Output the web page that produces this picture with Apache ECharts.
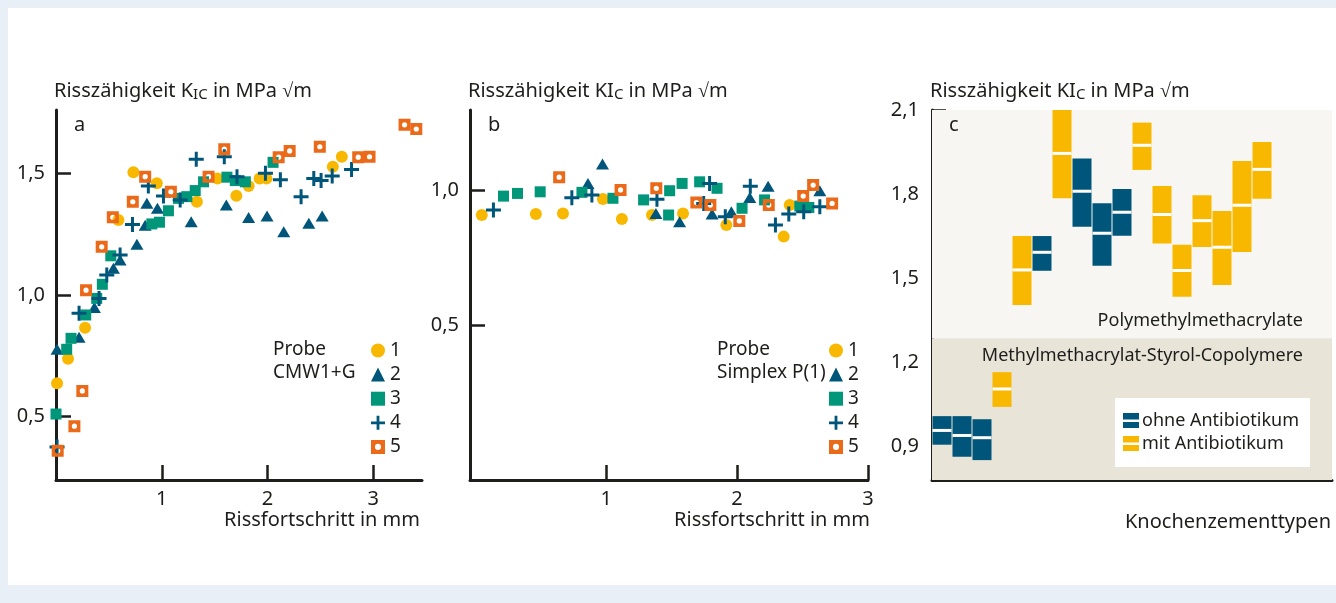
<!DOCTYPE html>
<html><head><meta charset="utf-8">
<script src="https://cdn.jsdelivr.net/npm/echarts@6/dist/echarts.min.js"></script>
<style>
html,body{margin:0;padding:0;background:#e8eff7;}
#panel{position:absolute;left:8px;top:8px;width:1328px;height:577px;background:#fff;}
#c{position:absolute;left:0;top:0;width:1336px;height:603px;}
</style>
</head><body><div id="panel"></div><div id="c"></div>
<script>
// ---------- data ----------
const probeNames = ['1', '2', '3', '4', '5'];
// Panel a: Probe CMW1+G  [Rissfortschritt mm, K_IC MPa√m]
const a1 = [[0.01,0.637],[0.114,0.738],[0.275,0.865],[0.59,1.308],[0.732,1.504],[0.953,1.459],[1.332,1.383],[1.527,1.479],[1.705,1.408],[1.821,1.448],[1.925,1.479],[1.989,1.479],[2.617,1.527],[2.702,1.568]];
const a2 = [[0.01,0.777],[0.218,0.826],[0.363,0.949],[0.543,1.11],[0.606,1.144],[0.765,1.209],[0.843,1.287],[0.859,1.377],[0.959,1.356],[1.278,1.301],[1.61,1.37],[1.821,1.318],[1.995,1.325],[2.153,1.26],[2.39,1.295],[2.516,1.325]];
const a3 = [[0,0.511],[0.101,0.777],[0.142,0.822],[0.281,0.918],[0.385,0.986],[0.438,1.044],[0.518,1.161],[0.906,1.292],[0.978,1.299],[1.063,1.346],[1.158,1.397],[1.237,1.404],[1.316,1.429],[1.395,1.465],[1.616,1.484],[1.695,1.47],[1.79,1.465],[2.052,1.545]];
const a4 = [[0.01,0.376],[0.218,0.925],[0.407,0.986],[0.48,1.082],[0.606,1.164],[0.723,1.29],[0.873,1.448],[1.016,1.407],[1.174,1.39],[1.326,1.558],[1.591,1.568],[1.711,1.486],[1.98,1.5],[2.121,1.473],[2.317,1.404],[2.437,1.479],[2.506,1.47],[2.611,1.489],[2.794,1.516]];
const a5 = [[0.016,0.36],[0.174,0.461],[0.249,0.606],[0.284,1.02],[0.432,1.198],[0.537,1.319],[0.726,1.383],[0.843,1.486],[1.086,1.424],[1.442,1.486],[1.591,1.599],[2.105,1.566],[2.209,1.592],[2.494,1.609],[2.857,1.566],[2.964,1.568],[3.295,1.699],[3.406,1.682]];
// Panel b: Probe Simplex P(1)
const b1 = [[0.05,0.91],[0.463,0.914],[0.67,0.916],[0.975,0.969],[1.12,0.895],[1.35,0.91],[1.587,0.916],[1.918,0.873],[2.356,0.83],[2.402,0.947]];
const b2 = [[0.861,1.027],[0.972,1.099],[1.38,0.916],[1.561,0.885],[1.809,0.914],[1.956,0.922],[2.097,0.975],[2.237,1.017],[2.632,1.0]];
const b3 = [[0.216,0.98],[0.323,0.99],[0.496,0.996],[0.815,0.994],[1.052,0.972],[1.286,0.966],[1.477,0.91],[1.485,1.0],[1.58,1.027],[1.714,1.033],[1.847,1.009],[2.038,0.935],[2.21,0.966],[2.479,0.943],[2.548,0.938]];
const b4 = [[0.139,0.929],[0.738,0.974],[0.891,0.984],[1.388,0.968],[1.745,0.953],[1.79,1.027],[1.91,0.904],[2.101,1.017],[2.293,0.873],[2.395,0.914],[2.509,0.922],[2.632,0.941]];
const b5 = [[0.641,1.05],[1.11,1.003],[1.383,1.009],[1.689,0.956],[1.796,0.947],[2.017,0.888],[2.242,0.947],[2.505,0.98],[2.581,1.021],[2.726,0.953]];
// Panel c: Knochenzementtypen (min, mittel, max) and antibiotic flag
const cLow  = [0.905,0.862,0.85,1.04,1.404,1.526,1.785,1.683,1.544,1.651,1.886,1.623,1.433,1.611,1.475,1.593,1.783];
const cMean = [0.956,0.938,0.93,1.104,1.529,1.592,1.945,1.81,1.66,1.735,1.974,1.727,1.527,1.705,1.61,1.76,1.888];
const cHigh = [1.007,1.007,0.996,1.164,1.65,1.65,2.10,1.927,1.767,1.818,2.055,1.829,1.619,1.796,1.739,1.918,1.986];
const cAntibiotic = [0,0,0,1,1,0,1,0,0,0,1,1,1,1,1,1,1];
const groupNames = ['ohne Antibiotikum', 'mit Antibiotikum'];
const regionNames = ['Polymethylmethacrylate', 'Methylmethacrylat-Styrol-Copolymere'];
const regionBounds = [[1.285, 2.1], [0.779, 1.285]];
const ticksA = [0.5, 1.0, 1.5];
const ticksB = [0.5, 1.0];
const ticksC = [0.9, 1.2, 1.5, 1.8, 2.1];
const ticksX = [1, 2, 3];

// ---------- style ----------
const FONT = 'Noto Sans';
const FS = 20;
const TXT = '#1d1d1b';
const YEL = '#f9b800', BLU = '#00567a', GRN = '#009679', ORG = '#eb6a1a';
const PLUS = 'path://M5.6,0H8.4V5.6H14V8.4H8.4V14H5.6V8.4H0V5.6H5.6Z';
const HOLLOW = 'path://M0,0L12,0L12,12L0,12Z M6,3.4A2.6,2.6,0,1,0,6,8.6A2.6,2.6,0,1,0,6,3.4Z';
const symbols = ['circle', 'triangle', 'rect', PLUS, HOLLOW];
const sizes = [12, [13, 11], 11, 15, 12];
const colors = [YEL, BLU, GRN, BLU, ORG];
const fmt = v => Number(v).toFixed(1).replace('.', ',');

function valueAxis(grid, min, max, ticks, labels, extra) {
  return Object.assign({
    gridIndex: grid, type: 'value', min: min, max: max,
    axisLine: { show: true, onZero: false, lineStyle: { color: TXT, width: 3 } },
    axisTick: { show: ticks.length > 0, inside: true, length: 15, customValues: ticks, lineStyle: { color: TXT, width: 2.5 } },
    axisLabel: { show: labels, customValues: ticks, formatter: fmt, fontSize: FS, fontFamily: FONT, color: TXT, margin: 11 },
    splitLine: { show: false }
  }, extra || {});
}

const series = [];
[[a1, a2, a3, a4, a5], [b1, b2, b3, b4, b5]].forEach((set, g) => {
  set.forEach((d, i) => {
    series.push({
      type: 'scatter', name: probeNames[i], xAxisIndex: g, yAxisIndex: g,
      data: d, symbol: symbols[i], symbolSize: sizes[i],
      itemStyle: { color: colors[i], opacity: 1 }, z: 3, silent: true
    });
  });
});

// panel c backgrounds
series.push({
  type: 'custom', xAxisIndex: 2, yAxisIndex: 2, z: 1, silent: true,
  data: regionBounds.map((b, i) => [b[0], b[1], i]),
  renderItem: function (params, api) {
    const cs = params.coordSys;
    const y0 = api.coord([0, api.value(1)])[1];
    const y1 = api.coord([0, api.value(0)])[1];
    const i = api.value(2);
    const children = [{
      type: 'rect', shape: { x: cs.x, y: y0, width: cs.width, height: y1 - y0 },
      style: { fill: i === 0 ? '#f7f6f2' : '#e8e4d8' }
    }];
    const by = i === 0 ? y1 - 17 : y0 + 18;
    children.push({
      type: 'text', x: cs.x + cs.width - 29, y: by,
      style: { text: regionNames[i], font: '18px "' + FONT + '"', fill: TXT, align: 'right', verticalAlign: 'middle' }
    });
    return { type: 'group', children: children };
  }
});

function boxRender(params, api) {
  const x = api.value(0), lo = api.value(1), mid = api.value(2), hi = api.value(3);
  const p1 = api.coord([x - 0.475, hi]);
  const p2 = api.coord([x + 0.475, lo]);
  const pm = api.coord([x, mid]);
  return {
    type: 'group', children: [
      { type: 'rect', shape: { x: p1[0], y: p1[1], width: p2[0] - p1[0], height: p2[1] - p1[1] }, style: { fill: api.visual('color') } },
      { type: 'rect', shape: { x: p1[0], y: pm[1] - 1.5, width: p2[0] - p1[0], height: 3 }, style: { fill: '#ffffff' } }
    ]
  };
}
[0, 1].forEach(flag => {
  const d = [];
  cLow.forEach((lo, i) => { if (cAntibiotic[i] === flag) d.push([i, lo, cMean[i], cHigh[i]]); });
  series.push({
    type: 'custom', name: groupNames[flag], xAxisIndex: 2, yAxisIndex: 2, z: 3, silent: true,
    itemStyle: { color: flag ? YEL : BLU }, data: d, renderItem: boxRender
  });
});

const legendCommon = {
  orient: 'vertical', data: probeNames, itemWidth: 14, itemHeight: 14, itemGap: 5.1, padding: 0,
  textStyle: { fontSize: 19, fontFamily: FONT, color: TXT, lineHeight: 18 }, selectedMode: false
};

function txt(x, y, text, align, extra, size) {
  return Object.assign({
    type: 'text', x: x, y: y, z: 10, silent: true,
    style: { text: text, font: (size || FS) + 'px "' + FONT + '"', fill: TXT, align: align || 'left', verticalAlign: 'middle' }
  }, extra || {});
}
const rich = { s: { fontSize: 15, fontFamily: FONT, padding: [7, 0, 0, 0], fill: TXT }, n: { fontSize: FS, fontFamily: FONT, fill: TXT } };
function title(x, before, sub, after) {
  return {
    type: 'text', x: x, y: 91, z: 10, silent: true,
    style: { text: '{n|' + before + '}{s|' + sub + '}{n|' + after + '}', rich: rich, font: FS + 'px "' + FONT + '"', fill: TXT, verticalAlign: 'middle' }
  };
}

const xLab = { customValues: ticksX, fontSize: FS, fontFamily: FONT, color: TXT, margin: 9 };
const option = {
  backgroundColor: 'transparent',
  animation: false,
  grid: [
    { left: 56, top: 110, width: 366, height: 370 },
    { left: 470, top: 110, width: 398, height: 370 },
    { left: 932, top: 110, width: 400, height: 370 }
  ],
  xAxis: [
    valueAxis(0, 0, 3.46, ticksX, true, { axisLabel: xLab }),
    valueAxis(1, -0.04, 3.0, ticksX, true, { axisLabel: xLab }),
    valueAxis(2, -0.5, 19.5, [], false, { axisTick: { show: false } })
  ],
  yAxis: [
    valueAxis(0, 0.24, 1.76, ticksA, true),
    valueAxis(1, -0.0715, 1.299, ticksB, true),
    valueAxis(2, 0.779, 2.1, ticksC, true, {
      axisTick: { show: true, inside: true, length: 14, customValues: ticksC, lineStyle: { color: TXT, width: 2.5 } },
      axisLabel: { customValues: ticksC, formatter: fmt, fontSize: FS, fontFamily: FONT, color: TXT, margin: 13 }
    })
  ],
  legend: [
    Object.assign({ left: 371, top: 341 }, legendCommon),
    Object.assign({ left: 829, top: 341 }, legendCommon)
  ],
  series: series,
  graphic: [
    title(54, 'Risszähigkeit K', 'IC', ' in MPa √m'),
    title(468, 'Risszähigkeit KI', 'C', ' in MPa √m'),
    title(930, 'Risszähigkeit KI', 'C', ' in MPa √m'),
    txt(74, 125, 'a'), txt(488, 125, 'b'), txt(949, 125, 'c'),
    txt(273, 350, 'Probe', 'left', null, 19), txt(273, 373, 'CMW1+G', 'left', null, 19),
    txt(717, 350, 'Probe', 'left', null, 19), txt(717, 373, 'Simplex P(1)', 'left', null, 19),
    txt(420, 520, 'Rissfortschritt in mm', 'right'),
    txt(870, 520, 'Rissfortschritt in mm', 'right'),
    txt(1331, 522, 'Knochenzementtypen', 'right'),
    { type: 'rect', z: 10, silent: true, shape: { x: 1115, y: 398, width: 195, height: 69 }, style: { fill: '#ffffff' } },
    { type: 'rect', z: 11, silent: true, shape: { x: 1123, y: 413, width: 16, height: 15 }, style: { fill: BLU } },
    { type: 'rect', z: 12, silent: true, shape: { x: 1123, y: 419.5, width: 16, height: 2.5 }, style: { fill: '#fff' } },
    { type: 'rect', z: 11, silent: true, shape: { x: 1123, y: 436, width: 16, height: 15 }, style: { fill: YEL } },
    { type: 'rect', z: 12, silent: true, shape: { x: 1123, y: 442.5, width: 16, height: 2.5 }, style: { fill: '#fff' } },
    txt(1142, 421, groupNames[0], 'left', { z: 12 }, 18),
    txt(1142, 444, groupNames[1], 'left', { z: 12 }, 18)
  ]
};
const chart = echarts.init(document.getElementById('c'), null, { renderer: 'canvas' });
chart.setOption(option);
</script></body></html>
